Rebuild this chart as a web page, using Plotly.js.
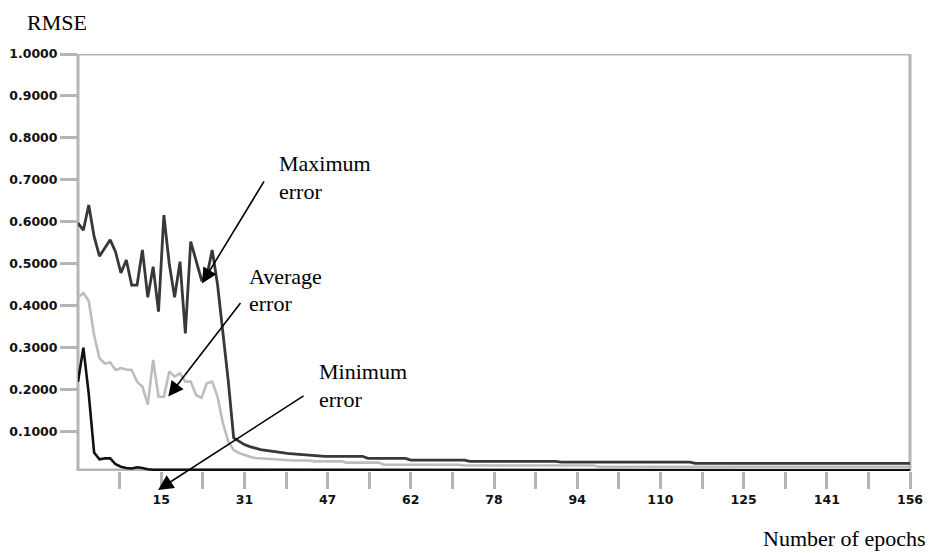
<!DOCTYPE html>
<html>
<head>
<meta charset="utf-8">
<script src="https://cdn.plot.ly/plotly-3.0.1.min.js"></script>
<style>html,body{margin:0;padding:0;background:#fff;}#chart{width:934px;height:553px;}</style>
</head>
<body>
<div id="chart"></div>
<script>
// ---- data ----
var maxError = [
  0.597, 0.580, 0.640, 0.565, 0.518, 0.538, 0.557, 0.528, 0.478, 0.509,
  0.449, 0.449, 0.533, 0.420, 0.493, 0.386, 0.616, 0.500, 0.420, 0.505,
  0.334, 0.553, 0.509, 0.462, 0.470, 0.533, 0.450, 0.335, 0.220, 0.085,
  0.076, 0.069, 0.064, 0.060, 0.057, 0.055, 0.053, 0.051, 0.050, 0.048,
  0.047, 0.046, 0.045, 0.044, 0.043, 0.041, 0.041, 0.041, 0.041, 0.041,
  0.041, 0.041, 0.041, 0.041, 0.036, 0.036, 0.036, 0.036, 0.036, 0.036,
  0.036, 0.036, 0.032, 0.032, 0.032, 0.032, 0.032, 0.032, 0.032, 0.032,
  0.032, 0.032, 0.032, 0.029, 0.029, 0.029, 0.029, 0.029, 0.029, 0.029,
  0.029, 0.029, 0.029, 0.029, 0.029, 0.029, 0.029, 0.029, 0.029, 0.029,
  0.027, 0.027, 0.027, 0.027, 0.027, 0.027, 0.027, 0.027, 0.027, 0.027,
  0.027, 0.027, 0.027, 0.027, 0.027, 0.027, 0.027, 0.027, 0.027, 0.027,
  0.027, 0.027, 0.027, 0.027, 0.027, 0.024, 0.024, 0.024, 0.024, 0.024,
  0.024, 0.024, 0.024, 0.024, 0.024, 0.024, 0.024, 0.024, 0.024, 0.024,
  0.024, 0.024, 0.024, 0.024, 0.024, 0.024, 0.024, 0.024, 0.024, 0.024,
  0.024, 0.024, 0.024, 0.024, 0.024, 0.024, 0.024, 0.024, 0.024, 0.024,
  0.024, 0.024, 0.024, 0.024, 0.024, 0.024
];
var avgError = [
  0.420, 0.430, 0.412, 0.330, 0.275, 0.262, 0.265, 0.247, 0.251, 0.248,
  0.247, 0.219, 0.207, 0.164, 0.271, 0.183, 0.183, 0.243, 0.231, 0.239,
  0.219, 0.219, 0.187, 0.180, 0.215, 0.219, 0.183, 0.120, 0.076, 0.056,
  0.049, 0.044, 0.040, 0.037, 0.036, 0.036, 0.035, 0.034, 0.033, 0.031,
  0.031, 0.031, 0.031, 0.031, 0.029, 0.029, 0.029, 0.029, 0.029, 0.029,
  0.026, 0.026, 0.026, 0.026, 0.026, 0.026, 0.026, 0.021, 0.021, 0.021,
  0.021, 0.021, 0.021, 0.021, 0.021, 0.021, 0.021, 0.021, 0.021, 0.021,
  0.021, 0.021, 0.019, 0.019, 0.019, 0.019, 0.019, 0.019, 0.019, 0.019,
  0.019, 0.019, 0.019, 0.019, 0.019, 0.019, 0.019, 0.019, 0.019, 0.019,
  0.019, 0.019, 0.019, 0.019, 0.019, 0.019, 0.019, 0.016, 0.016, 0.016,
  0.016, 0.016, 0.016, 0.016, 0.016, 0.016, 0.016, 0.016, 0.016, 0.016,
  0.016, 0.016, 0.016, 0.016, 0.016, 0.016, 0.016, 0.016, 0.016, 0.016,
  0.016, 0.016, 0.016, 0.016, 0.016, 0.016, 0.016, 0.016, 0.016, 0.016,
  0.016, 0.016, 0.016, 0.016, 0.016, 0.016, 0.016, 0.016, 0.016, 0.016,
  0.016, 0.016, 0.016, 0.016, 0.016, 0.016, 0.016, 0.016, 0.016, 0.016,
  0.016, 0.016, 0.016, 0.016, 0.016, 0.016
];
var minError = [
  0.219, 0.300, 0.190, 0.050, 0.034, 0.036, 0.036, 0.022, 0.016, 0.013,
  0.012, 0.015, 0.013, 0.010, 0.009, 0.009, 0.009, 0.009, 0.009, 0.009,
  0.009, 0.009, 0.009, 0.009, 0.009, 0.009, 0.009, 0.009, 0.0075, 0.0075,
  0.0075, 0.0075, 0.0075, 0.0075, 0.0075, 0.0075, 0.0075, 0.0075, 0.0075, 0.0075,
  0.0075, 0.0075, 0.0075, 0.0075, 0.0075, 0.0075, 0.0075, 0.0075, 0.0075, 0.0075,
  0.0075, 0.0075, 0.0075, 0.0075, 0.0075, 0.0075, 0.0075, 0.0075, 0.0075, 0.0075,
  0.0075, 0.0075, 0.0075, 0.0075, 0.0075, 0.0075, 0.0075, 0.0075, 0.0075, 0.0075,
  0.0075, 0.0075, 0.0075, 0.0075, 0.0075, 0.0075, 0.0075, 0.0075, 0.0075, 0.0075,
  0.0075, 0.0075, 0.0075, 0.0075, 0.0075, 0.0075, 0.0075, 0.0075, 0.0075, 0.0075,
  0.0075, 0.0075, 0.0075, 0.0075, 0.0075, 0.0075, 0.0075, 0.0075, 0.0075, 0.0075,
  0.0075, 0.0075, 0.0075, 0.0075, 0.0075, 0.0075, 0.0075, 0.0075, 0.0075, 0.0075,
  0.0075, 0.0075, 0.0075, 0.0075, 0.0075, 0.0075, 0.0075, 0.0075, 0.0075, 0.0075,
  0.0075, 0.0075, 0.0075, 0.0075, 0.0075, 0.0075, 0.0075, 0.0075, 0.0075, 0.0075,
  0.0075, 0.0075, 0.0075, 0.0075, 0.0075, 0.0075, 0.0075, 0.0075, 0.0075, 0.0075,
  0.0075, 0.0075, 0.0075, 0.0075, 0.0075, 0.0075, 0.0075, 0.0075, 0.0075, 0.0075,
  0.0075, 0.0075, 0.0075, 0.0075, 0.0075, 0.0075
];
var xTickLabels = ['15', '31', '47', '62', '78', '94', '110', '125', '141', '156'];
var yTickVals = [0.1, 0.2, 0.3, 0.4, 0.5, 0.6, 0.7, 0.8, 0.9, 1.0];
var yTickText = ['0.1000', '0.2000', '0.3000', '0.4000', '0.5000', '0.6000', '0.7000', '0.8000', '0.9000', '1.0000'];
var yAxisTitle = 'RMSE';
var xAxisTitle = 'Number of epochs';
var seriesLabels = ['Maximum', 'Average', 'Minimum'];

// ---- build ----
var epochs = maxError.map(function (_, i) { return i + 1; });
var nEpochs = epochs.length;
var xMin = 1, xMax = nEpochs;

var xTickVals = [], xTickText = [];
for (var k = 1; k <= 20; k++) {
  xTickVals.push(xMin + (xMax - xMin) * k / 20);
  xTickText.push(k % 2 === 0 ? xTickLabels[k / 2 - 1] : '');
}

var frameColor = '#b5b5b5';
var traces = [
  {x: epochs, y: avgError, type: 'scatter', mode: 'lines', name: seriesLabels[1],
   line: {color: '#bdbdbd', width: 2.6}},
  {x: epochs, y: maxError, type: 'scatter', mode: 'lines', name: seriesLabels[0],
   line: {color: '#383838', width: 2.8}},
  {x: epochs, y: minError, type: 'scatter', mode: 'lines', name: seriesLabels[2],
   line: {color: '#111111', width: 2.6}}
];

var serif = 'Liberation Serif, Times New Roman, serif';
var tickFont = {family: 'DejaVu Sans, Verdana, sans-serif', size: 12.5, weight: 'bold', color: '#111'};
function label(text, x, y, anchor) {
  return {text: text, xref: 'paper', yref: 'paper', x: x, y: y, showarrow: false,
          xanchor: anchor || 'left', yanchor: 'middle', font: {family: serif, size: 22, color: '#000'}};
}
function arrow(x, y, ax, ay) {
  return {text: '', xref: 'paper', yref: 'paper', x: x, y: y, ax: ax, ay: ay,
          showarrow: true, arrowhead: 2, arrowsize: 1.9, arrowwidth: 1.6,
          arrowcolor: '#000', standoff: 0};
}

var layout = {
  width: 934, height: 553,
  margin: {l: 78, r: 24, t: 54, b: 82},
  paper_bgcolor: '#fff', plot_bgcolor: '#fff',
  showlegend: false,
  hovermode: false,
  xaxis: {
    range: [xMin, xMax], tickmode: 'array', tickvals: xTickVals, ticktext: xTickText,
    ticks: 'outside', ticklen: 17, tickwidth: 3, tickcolor: frameColor,
    showgrid: false, zeroline: false, showline: false, fixedrange: true,
    tickfont: tickFont
  },
  yaxis: {
    range: [0.006, 1.0], tickmode: 'array', tickvals: yTickVals, ticktext: yTickText,
    ticks: 'outside', ticklen: 17, tickwidth: 3, tickcolor: frameColor,
    showgrid: false, zeroline: false, showline: false, fixedrange: true,
    tickfont: tickFont
  },
  shapes: [
    {type: 'rect', xref: 'paper', yref: 'y', x0: 0, x1: 1, y0: 0.0086, y1: 1.0,
     line: {color: frameColor, width: 3}, fillcolor: 'rgba(0,0,0,0)', layer: 'below'}
  ],
  annotations: [
    label(yAxisTitle, -0.0637, 1.0767),
    label(xAxisTitle, 1.0216, -0.1607, 'right'),
    label(seriesLabels[0], 0.2388, 0.7386),
    label('error', 0.2388, 0.6703),
    label(seriesLabels[1], 0.2028, 0.4676),
    label('error', 0.2028, 0.4005),
    label(seriesLabels[2], 0.2869, 0.2398),
    label('error', 0.2869, 0.1703),
    arrow(0.149, 0.4499, 63, -103.5),
    arrow(0.1085, 0.1784, 73.4, -95),
    arrow(0.0962, -0.0453, 147, -95)
  ]
};

Plotly.newPlot('chart', traces, layout, {staticPlot: true, displayModeBar: false});
</script>
</body>
</html>
